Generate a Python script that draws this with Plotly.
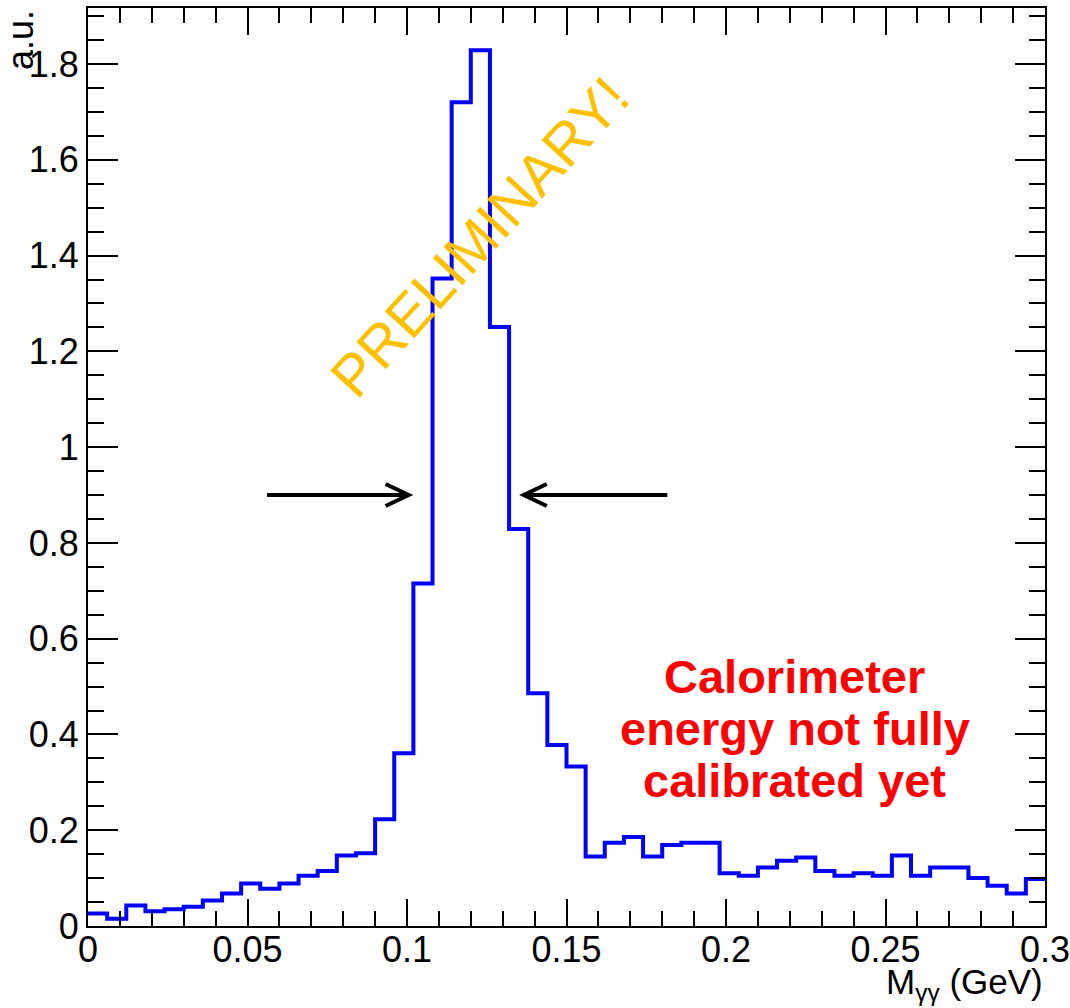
import numpy as np
import plotly.graph_objects as go

# ---- data ----
bin_width = 0.006
n_bins = 50
counts = [0.026, 0.015, 0.043, 0.031, 0.035, 0.040, 0.053, 0.068, 0.089, 0.078,
          0.089, 0.105, 0.115, 0.147, 0.152, 0.223, 0.361, 0.715, 1.352, 1.720,
          1.829, 1.251, 0.829, 0.486, 0.378, 0.333, 0.145, 0.174, 0.186, 0.145,
          0.169, 0.174, 0.174, 0.110, 0.105, 0.122, 0.136, 0.143, 0.115, 0.105,
          0.110, 0.105, 0.147, 0.105, 0.122, 0.122, 0.100, 0.084, 0.068, 0.098]
x_tickvals = [0, 0.05, 0.1, 0.15, 0.2, 0.25, 0.3]
x_ticktext = ["0", "0.05", "0.1", "0.15", "0.2", "0.25", "0.3"]
y_tickvals = [0, 0.2, 0.4, 0.6, 0.8, 1.0, 1.2, 1.4, 1.6, 1.8]
y_ticktext = ["0", "0.2", "0.4", "0.6", "0.8", "1", "1.2", "1.4", "1.6", "1.8"]
x_range = [0, 0.3]
y_range = [0, 1.917]

# arrows (data coords): tail x, head x, y
arrow_left = (0.0561, 0.1005, 0.900)
arrow_right = (0.1816, 0.1366, 0.900)

edges = [i * bin_width for i in range(n_bins + 1)]
xs = edges
ys = counts + [counts[-1]]

FONT = "Liberation Sans, Arial, Helvetica, sans-serif"

fig = go.Figure()
fig.add_trace(go.Scatter(x=xs, y=ys, mode="lines", line=dict(shape="hv", color="#0000FF", width=4),
                         showlegend=False, hoverinfo="skip"))

# arrows as path shapes
hx, hy = 0.00722, 0.023
for (x0, x1, yv) in [arrow_left, arrow_right]:
    d = np.sign(x1 - x0)
    path = (f"M {x0},{yv} L {x1},{yv} "
            f"M {x1 - d*hx},{yv + hy} L {x1},{yv} L {x1 - d*hx},{yv - hy}")
    fig.add_shape(type="path", path=path, xref="x", yref="y",
                  line=dict(color="black", width=4))

# PRELIMINARY!
fig.add_annotation(x=0.1227, y=1.44, xref="x", yref="y", text="PRELIMINARY!",
                   textangle=-47.5, showarrow=False,
                   font=dict(family=FONT, size=58, color="#FFC000"))

# red note
note_lines = ["Calorimeter", "energy not fully", "calibrated yet"]
note_y = [0.521, 0.413, 0.304]
for t, yy in zip(note_lines, note_y):
    fig.add_annotation(x=0.2215, y=yy, xref="x", yref="y", text=f"<b>{t}</b>",
                       showarrow=False, font=dict(family=FONT, size=47, color="#FF0000"))

# axis titles
fig.add_annotation(x=1, y=-0.063, xref="paper", yref="paper", xanchor="right", yanchor="middle",
                   text="M<sub>γγ</sub> (GeV)", showarrow=False,
                   font=dict(family=FONT, size=35, color="black"))
fig.add_annotation(x=-0.071, y=1.0, xref="paper", yref="paper", xanchor="center", yanchor="top",
                   text="a.u.", textangle=-90, showarrow=False,
                   font=dict(family=FONT, size=36, color="black"))

axis_common = dict(showline=True, linecolor="black", linewidth=2, mirror="ticks",
                   ticks="inside", tickcolor="black", tickwidth=2, automargin=False,
                   showgrid=False, zeroline=False, ticklabeloverflow="allow",
                   tickfont=dict(family=FONT, size=36, color="black"))

fig.update_xaxes(range=x_range, tickvals=x_tickvals, ticktext=x_ticktext, ticklen=27,
                 ticklabelstandoff=-9,
                 minor=dict(ticks="inside", ticklen=15, dtick=0.01, tickcolor="black", tickwidth=2,
                            showgrid=False),
                 **axis_common)
fig.update_yaxes(range=y_range, tickvals=y_tickvals, ticktext=y_ticktext, ticklen=30,
                 minor=dict(ticks="inside", ticklen=16, dtick=0.05, tickcolor="black", tickwidth=2,
                            showgrid=False),
                 **axis_common)

fig.update_layout(width=1070, height=1008,
                  margin=dict(l=88, r=25, t=8, b=82, autoexpand=False),
                  plot_bgcolor="white", paper_bgcolor="white", showlegend=False)

fig.write_html("out.html")
